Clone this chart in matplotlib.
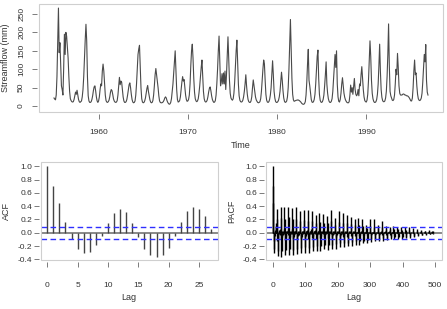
import numpy as np
import matplotlib.pyplot as plt
from matplotlib.patches import Rectangle

plt.rcParams['font.family'] = ['Liberation Sans', 'DejaVu Sans']

# ── Data ─────────────────────────────────────────────────────────────────────

START_YEAR = 1955

# monthly streamflow (mm), one row per year, Jan..Dec, 1955-1996
FLOW = [
    [22, 19, 17, 30, 80, 180, 266, 145, 172, 110, 55, 45],     # 1955
    [30, 100, 195, 140, 200, 190, 160, 130, 80, 40, 20, 15],   # 1956
    [12, 11, 12, 18, 28, 38, 32, 43, 30, 18, 12, 10],          # 1957
    [12, 14, 25, 45, 80, 130, 180, 222, 177, 80, 28, 14],      # 1958
    [10, 10, 12, 18, 28, 42, 52, 55, 42, 25, 14, 10],          # 1959
    [14, 25, 45, 60, 55, 95, 114, 95, 60, 30, 15, 11],         # 1960
    [10, 12, 16, 25, 38, 45, 42, 32, 20, 14, 11, 10],          # 1961
    [11, 15, 30, 55, 78, 58, 68, 65, 45, 25, 14, 10],          # 1962
    [10, 12, 18, 30, 45, 58, 63, 50, 32, 18, 11, 9],           # 1963
    [10, 14, 30, 60, 100, 140, 155, 165, 110, 50, 20, 11],     # 1964
    [9, 10, 14, 22, 35, 48, 56, 40, 28, 17, 11, 9],            # 1965
    [10, 15, 30, 55, 85, 102, 85, 70, 50, 28, 14, 10],         # 1966
    [9, 9, 10, 12, 16, 22, 25, 22, 15, 10, 7, 5],              # 1967
    [6, 10, 20, 40, 60, 90, 120, 150, 100, 45, 18, 11],        # 1968
    [12, 15, 25, 45, 65, 80, 68, 72, 50, 30, 18, 13],          # 1969
    [14, 18, 30, 60, 110, 150, 168, 130, 75, 38, 20, 14],      # 1970
    [12, 14, 20, 35, 55, 80, 105, 125, 85, 40, 20, 13],        # 1971
    [11, 12, 16, 25, 38, 48, 52, 42, 28, 18, 13, 10],          # 1972
    [11, 15, 30, 60, 100, 150, 190, 120, 55, 65, 88, 60],      # 1973
    [90, 60, 95, 45, 85, 135, 188, 130, 70, 35, 22, 18],       # 1974
    [16, 20, 35, 65, 110, 150, 179, 120, 60, 28, 16, 12],      # 1975
    [11, 12, 16, 25, 40, 60, 85, 55, 32, 18, 12, 10],          # 1976
    [10, 14, 25, 50, 71, 55, 38, 25, 17, 13, 10, 9],           # 1977
    [10, 12, 20, 40, 70, 100, 125, 115, 70, 32, 16, 11],       # 1978
    [10, 12, 18, 30, 50, 85, 123, 85, 40, 22, 13, 10],         # 1979
    [10, 12, 16, 25, 40, 65, 92, 70, 42, 22, 13, 10],          # 1980
    [11, 14, 25, 50, 100, 170, 235, 160, 75, 32, 17, 13],      # 1981
    [14, 15, 16, 16, 17, 16, 15, 13, 11, 8, 6, 5],             # 1982
    [5, 7, 12, 30, 65, 115, 154, 70, 55, 35, 18, 11],          # 1983
    [10, 12, 18, 32, 60, 100, 135, 152, 75, 32, 16, 11],       # 1984
    [10, 12, 18, 30, 55, 85, 120, 60, 35, 20, 13, 10],         # 1985
    [10, 13, 20, 40, 75, 115, 140, 105, 150, 60, 25, 13],      # 1986
    [11, 18, 35, 60, 77, 55, 35, 24, 17, 13, 10, 9],           # 1987
    [9, 12, 30, 57, 38, 50, 32, 55, 75, 45, 32, 28],           # 1988
    [32, 45, 28, 60, 55, 85, 107, 75, 45, 25, 15, 12],         # 1989
    [11, 16, 32, 70, 125, 177, 135, 70, 35, 20, 13, 10],       # 1990
    [10, 12, 18, 32, 60, 110, 168, 95, 45, 24, 15, 12],        # 1991
    [12, 14, 22, 40, 80, 140, 223, 110, 40, 28, 22, 16],       # 1992
    [15, 18, 30, 60, 100, 85, 143, 105, 55, 35, 30, 30],       # 1993
    [30, 32, 33, 32, 30, 30, 28, 28, 27, 25, 22, 18],          # 1994
    [14, 14, 22, 50, 95, 125, 85, 90, 55, 32, 20, 16],         # 1995
    [15, 17, 22, 35, 65, 105, 140, 120, 167, 70, 38, 30],      # 1996
]

# sample ACF, lags 0..27
ACF_LAGS = list(range(28))
ACF_VALUES = [1.00, 0.71, 0.45, 0.16, -0.09, -0.24, -0.30, -0.29, -0.18, -0.05,
              0.15, 0.30, 0.36, 0.31, 0.15, -0.07, -0.24, -0.34, -0.37, -0.33,
              -0.23, -0.05, 0.16, 0.32, 0.38, 0.36, 0.25, 0.06]

# sample PACF, lags 0..503 (rows of 12 lags)
PACF_VALUES = [
    [1.00, 0.71, 0.45, -0.30, -0.25, -0.12, 0.03, -0.05, 0.04, 0.08, 0.10, 0.15],
    [0.36, 0.20, -0.12, -0.35, -0.28, -0.08, 0.03, -0.02, 0.04, 0.02, -0.03, 0.06],
    [0.38, 0.22, -0.10, -0.36, -0.27, -0.07, 0.02, -0.03, 0.03, 0.01, -0.02, 0.05],
    [0.38, 0.21, -0.11, -0.34, -0.26, -0.06, 0.03, -0.01, 0.02, 0.02, -0.03, 0.06],
    [0.39, 0.23, -0.09, -0.34, -0.25, -0.07, 0.02, -0.02, 0.03, 0.01, -0.02, 0.05],
    [0.37, 0.20, -0.10, -0.33, -0.26, -0.06, 0.03, -0.03, 0.02, 0.02, -0.02, 0.04],
    [0.38, 0.21, -0.09, -0.32, -0.24, -0.05, 0.02, -0.02, 0.03, 0.01, -0.03, 0.05],
    [0.32, 0.18, -0.10, -0.30, -0.23, -0.06, 0.02, -0.01, 0.02, 0.02, -0.02, 0.05],
    [0.34, 0.19, -0.08, -0.30, -0.22, -0.05, 0.03, -0.02, 0.02, 0.01, -0.02, 0.04],
    [0.34, 0.18, -0.09, -0.30, -0.23, -0.05, 0.02, -0.02, 0.03, 0.01, -0.02, 0.05],
    [0.33, 0.17, -0.08, -0.28, -0.21, -0.05, 0.02, -0.01, 0.02, 0.02, -0.02, 0.04],
    [0.27, 0.15, -0.09, -0.28, -0.20, -0.04, 0.02, -0.02, 0.02, 0.01, -0.02, 0.04],
    [0.29, 0.16, -0.08, -0.27, -0.20, -0.05, 0.03, -0.01, 0.02, 0.01, -0.02, 0.04],
    [0.28, 0.15, -0.07, -0.25, -0.19, -0.04, 0.02, -0.02, 0.02, 0.01, -0.01, 0.04],
    [0.25, 0.14, -0.08, -0.26, -0.18, -0.04, 0.02, -0.01, 0.02, 0.01, -0.02, 0.03],
    [0.34, 0.17, -0.07, -0.25, -0.18, -0.04, 0.02, -0.01, 0.02, 0.01, -0.02, 0.04],
    [0.22, 0.12, -0.07, -0.24, -0.17, -0.04, 0.02, -0.02, 0.02, 0.01, -0.01, 0.03],
    [0.33, 0.16, -0.06, -0.22, -0.16, -0.04, 0.02, -0.01, 0.02, 0.01, -0.02, 0.04],
    [0.29, 0.15, -0.06, -0.22, -0.15, -0.03, 0.02, -0.01, 0.01, 0.01, -0.01, 0.03],
    [0.27, 0.14, -0.06, -0.20, -0.15, -0.03, 0.01, -0.01, 0.02, 0.01, -0.01, 0.03],
    [0.24, 0.13, -0.05, -0.20, -0.14, -0.03, 0.02, -0.01, 0.01, 0.01, -0.01, 0.03],
    [0.21, 0.11, -0.05, -0.18, -0.13, -0.03, 0.01, -0.01, 0.01, 0.01, -0.01, 0.03],
    [0.22, 0.12, -0.05, -0.18, -0.12, -0.03, 0.01, -0.01, 0.02, 0.01, -0.01, 0.02],
    [0.20, 0.10, -0.04, -0.16, -0.12, -0.03, 0.01, -0.01, 0.01, 0.01, -0.01, 0.02],
    [0.12, 0.07, -0.04, -0.15, -0.11, -0.02, 0.01, -0.01, 0.01, 0.00, -0.01, 0.02],
    [0.20, 0.10, -0.04, -0.14, -0.10, -0.02, 0.01, -0.01, 0.01, 0.01, -0.01, 0.02],
    [0.20, 0.09, -0.04, -0.13, -0.10, -0.02, 0.01, -0.01, 0.01, 0.00, -0.01, 0.02],
    [0.12, 0.07, -0.03, -0.12, -0.09, -0.02, 0.01, 0.00, 0.01, 0.01, -0.01, 0.02],
    [0.17, 0.08, -0.03, -0.12, -0.08, -0.02, 0.01, -0.01, 0.01, 0.00, -0.01, 0.02],
    [0.10, 0.06, -0.03, -0.11, -0.08, -0.02, 0.01, 0.00, 0.01, 0.00, -0.01, 0.02],
    [0.09, 0.05, -0.03, -0.10, -0.07, -0.02, 0.01, 0.00, 0.01, 0.00, -0.01, 0.01],
    [0.10, 0.05, -0.03, -0.10, -0.07, -0.01, 0.01, 0.00, 0.01, 0.00, -0.01, 0.01],
    [0.09, 0.05, -0.02, -0.10, -0.07, -0.01, 0.01, 0.00, 0.01, 0.00, -0.01, 0.01],
    [0.09, 0.04, -0.02, -0.09, -0.06, -0.01, 0.01, 0.00, 0.00, 0.00, -0.01, 0.01],
    [0.08, 0.04, -0.02, -0.08, -0.06, -0.01, 0.01, 0.00, 0.00, 0.00, 0.00, 0.01],
    [0.09, 0.04, -0.02, -0.08, -0.05, -0.01, 0.01, 0.00, 0.00, 0.00, 0.00, 0.01],
    [0.07, 0.03, -0.02, -0.07, -0.05, -0.01, 0.00, 0.00, 0.00, 0.00, 0.00, 0.01],
    [0.05, 0.03, -0.01, -0.05, -0.04, -0.01, 0.00, 0.00, 0.00, 0.00, 0.00, 0.01],
    [0.04, 0.02, -0.01, -0.04, -0.03, -0.01, 0.00, 0.00, 0.00, 0.00, 0.00, 0.01],
    [0.03, 0.02, -0.01, -0.03, -0.02, 0.00, 0.00, 0.00, 0.00, 0.00, 0.00, 0.01],
    [0.04, 0.02, -0.01, -0.02, -0.02, 0.00, 0.01, 0.00, 0.00, 0.00, 0.00, 0.01],
    [0.03, 0.02, -0.01, -0.02, -0.01, 0.00, 0.00, 0.00, 0.00, 0.00, 0.00, 0.00],
]

CONF_LIMIT = 0.087   # 1.96 / sqrt(n)

FLOW_TICKS = [0, 50, 100, 150, 200, 250]
YEAR_TICKS = [1960, 1970, 1980, 1990]
CORR_TICKS = [-0.4, -0.2, 0.0, 0.2, 0.4, 0.6, 0.8, 1.0]
ACF_XTICKS = [0, 5, 10, 15, 20, 25]
PACF_XTICKS = [0, 100, 200, 300, 400, 500]

# ── Styling helpers ──────────────────────────────────────────────────────────

W, H = 447, 309
TICK_COLOR = "#666666"
TEXT_COLOR = "#333333"
BOX_COLOR = "#cfcfcf"
CONF_COLOR = "#2f2fff"


def px_axes(fig, left, top, right, bottom):
    return fig.add_axes([left / W, 1 - bottom / H, (right - left) / W, (bottom - top) / H])


def r_style(ax, xpad, ypad, ylabel_rot=0):
    for s in ax.spines.values():
        s.set_visible(False)
    ax.spines["bottom"].set_position(("outward", 1.5))
    ax.spines["left"].set_position(("outward", 1.5))
    ax.add_patch(Rectangle((0, 0), 1, 1, transform=ax.transAxes, fill=False,
                           ec=BOX_COLOR, lw=0.8, clip_on=False, zorder=5))
    ax.tick_params(axis="both", direction="out", length=3.5, width=0.6,
                   color=TICK_COLOR, labelcolor=TEXT_COLOR, labelsize=6)
    ax.tick_params(axis="x", pad=xpad)
    ax.tick_params(axis="y", pad=ypad, labelrotation=ylabel_rot)


def label(fig, x, y, text, rot=0):
    fig.text(x / W, 1 - y / H, text, ha="center", va="center", rotation=rot,
             fontsize=6.5, color=TEXT_COLOR)


# ── Figure ───────────────────────────────────────────────────────────────────

fig = plt.figure(figsize=(W / 100, H / 100), dpi=100)

# streamflow series
flow = np.array(FLOW, dtype=float).ravel()
t = START_YEAR + np.arange(flow.size) / 12.0

ax1 = px_axes(fig, 39, 4, 443, 112)
ax1.plot(t, flow, color="#4a4a4a", lw=0.8)
ax1.set_xlim(1953.32, 1998.6)
ax1.set_ylim(-16, 277)
ax1.set_xticks(YEAR_TICKS)
ax1.set_yticks(FLOW_TICKS)
r_style(ax1, xpad=7, ypad=5, ylabel_rot=90)
for lab in ax1.get_yticklabels():
    lab.set_va("center")
label(fig, 241, 145.7, "Time")
label(fig, 6, 58, "Streamflow (mm)", rot=90)

# ACF
acf = np.array(ACF_VALUES)
ax2 = px_axes(fig, 40.7, 162.3, 217.7, 260)
ax2.axhline(0, color="#808080", lw=1.3, zorder=1)
ax2.vlines(ACF_LAGS, 0, acf, color="#444444", lw=1.0, zorder=2)
for c in (CONF_LIMIT, -CONF_LIMIT):
    ax2.axhline(c, color=CONF_COLOR, lw=1.0, ls=(0, (4, 2.5)), zorder=3)
ax2.set_xlim(-1.08, 28.08)
ax2.set_ylim(-0.41, 1.06)
ax2.set_xticks(ACF_XTICKS)
ax2.set_yticks(CORR_TICKS)
ax2.set_yticklabels([f"{v:.1f}" for v in CORR_TICKS])
r_style(ax2, xpad=11, ypad=1)
label(fig, 129, 297.7, "Lag")
label(fig, 6, 211, "ACF", rot=90)

# PACF
pacf = np.array(PACF_VALUES, dtype=float).ravel()
lags = np.arange(pacf.size)
ax3 = px_axes(fig, 265.7, 162.3, 442.3, 260)
ax3.axhline(0, color="#808080", lw=1.3, zorder=1)
ax3.vlines(lags, 0, pacf, color="black", lw=1.0, zorder=2)
for c in (CONF_LIMIT, -CONF_LIMIT):
    ax3.axhline(c, color=CONF_COLOR, lw=1.0, ls=(0, (4, 2.5)), zorder=3)
ax3.set_xlim(-21.6, 522.3)
ax3.set_ylim(-0.41, 1.06)
ax3.set_xticks(PACF_XTICKS)
ax3.set_yticks(CORR_TICKS)
ax3.set_yticklabels([f"{v:.1f}" for v in CORR_TICKS])
r_style(ax3, xpad=11, ypad=1)
label(fig, 354, 297.7, "Lag")
label(fig, 231.7, 211, "PACF", rot=90)

fig.savefig("out.png", dpi=100)
